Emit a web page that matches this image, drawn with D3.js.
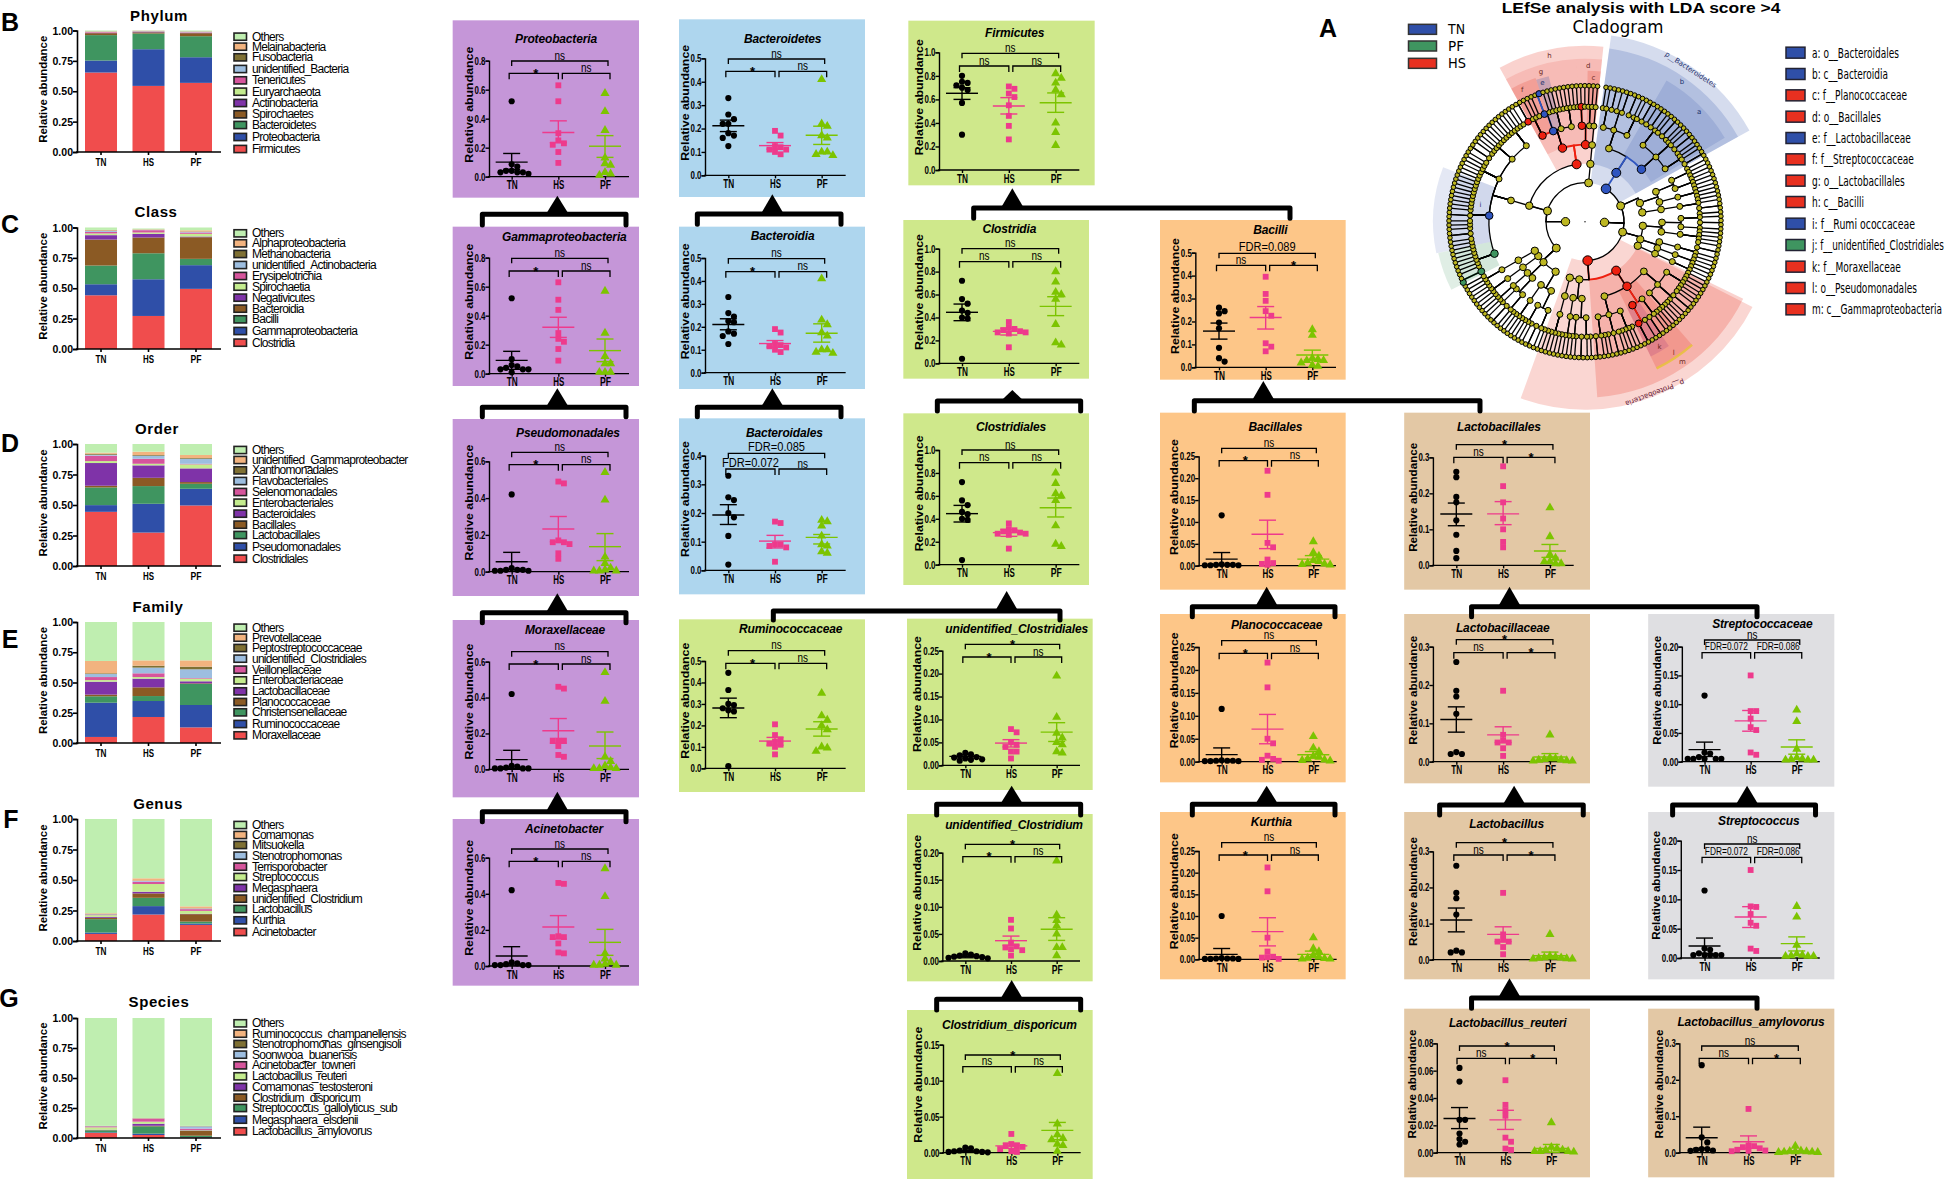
<!DOCTYPE html>
<html><head><meta charset="utf-8">
<script src="https://cdnjs.cloudflare.com/ajax/libs/d3/7.8.5/d3.min.js"></script>
<style>html,body{margin:0;padding:0;background:#fff;overflow:hidden}svg{display:block}text{font-family:"Liberation Sans",Arial,sans-serif;fill:#000}</style>
</head><body>
<script>
// ---------- categories ----------
const groups=["TN","HS","PF"];
const groupColors=["#000000","#EE3A8C","#7CC400"];
const stackColors=["#F04D4D","#2F4FA8","#3F9560","#8B5A24","#7F33A8","#C4EC8E","#D6559C","#9DBEE0","#7F7033","#F2B37F","#BFEEB0"];

// ---------- stacked bars (bottom segment first) ----------
const phylumTaxa=["Firmicutes","Proteobacteria","Bacteroidetes","Spirochaetes","Actinobacteria","Euryarchaeota","Tenericutes","unidentified_Bacteria","Fusobacteria","Melainabacteria","Others"];
const phylumTN=[.654,.099,.209,.016,.003,.002,.005,.002,.002,.002,.006];
const phylumHS=[.544,.302,.129,.010,.003,.002,.003,.002,.002,.001,.002];
const phylumPF=[.569,.211,.173,.025,.002,.002,.004,.004,.002,.002,.006];
const classTaxa=["Clostridia","Gammaproteobacteria","Bacilli","Bacteroidia","Negativicutes","Spirochaetia","Erysipelotrichia","unidentified_Actinobacteria","Methanobacteria","Alphaproteobacteria","Others"];
const classTN=[.442,.091,.154,.214,.036,.014,.013,.008,.004,.004,.020];
const classHS=[.272,.302,.214,.130,.030,.011,.019,.002,.002,.003,.007];
const classPF=[.495,.195,.052,.178,.006,.022,.011,.005,.003,.010,.023];
const orderTaxa=["Clostridiales","Pseudomonadales","Lactobacillales","Bacillales","Bacteroidales","Enterobacteriales","Selenomonadales","Flavobacteriales","Xanthomonadales","unidentified_Gammaproteobacter","Others"];
const orderTN=[.444,.055,.145,.014,.186,.016,.044,.008,.008,.009,.071];
const orderHS=[.274,.236,.145,.068,.102,.013,.041,.025,.006,.027,.063];
const orderPF=[.496,.137,.041,.014,.112,.033,.005,.041,.006,.025,.090];
const familyTaxa=["Moraxellaceae","Ruminococcaceae","Christensenellaceae","Planococcaceae","Lactobacillaceae","Enterobacteriaceae","Veillonellaceae","unidentified_Clostridiales","Peptostreptococcaceae","Prevotellaceae","Others"];
const familyTN=[.050,.283,.053,.014,.107,.013,.025,.025,.006,.102,.322];
const familyHS=[.215,.132,.041,.072,.072,.013,.031,.047,.016,.044,.317];
const familyPF=[.129,.185,.174,.005,.017,.022,.005,.072,.022,.052,.317];
const genusTaxa=["Acinetobacter","Kurthia","Lactobacillus","unidentified_Clostridium","Megasphaera","Streptococcus","Terrisporobacter","Stenotrophomonas","Mitsuokella","Comamonas","Others"];
const genusTN=[.058,.011,.110,.011,.008,.014,.005,.003,.003,.005,.772];
const genusHS=[.217,.069,.068,.036,.014,.063,.019,.006,.003,.019,.486];
const genusPF=[.132,.011,.016,.061,.003,.024,.014,.005,.002,.016,.716];
const speciesTaxa=["Lactobacillus_amylovorus","Megasphaera_elsdenii","Streptococcus_gallolyticus_sub","Clostridium_disporicum","Comamonas_testosteroni","Lactobacillus_reuteri","Acinetobacter_towneri","Soonwooa_buanensis","Stenotrophomonas_ginsengisoli","Ruminococcus_champanellensis","Others"];
const speciesTN=[.042,.005,.017,.002,.003,.020,.008,.002,.001,.001,.899];
const speciesHS=[.025,.011,.061,.005,.017,.017,.025,.002,.002,.002,.833];
const speciesPF=[.005,.003,.011,.042,.003,.003,.011,.019,.002,.002,.899];

// ---------- dot plots: points per group, then [mean, low, high] per group ----------
const proteobacteriaPts=[[.52,.085,.07,.04,.04,.03,.03,.03,.02],[.63,.52,.30,.25,.23,.22,.17,.095],[.575,.45,.32,.13,.09,.08,.03,.02,.01]];
const proteobacteriaBar=[[.10,.05,.16],[.305,.235,.385],[.21,.133,.283]];
const gammaPts=[[.52,.10,.06,.05,.04,.03,.03,.03,.01],[.63,.51,.44,.28,.24,.22,.17,.09],[.57,.28,.12,.07,.07,.01,.01,.01]];
const gammaBar=[[.092,.03,.154],[.32,.25,.389],[.159,.083,.239]];
const pseudomonadalesPts=[[.42,.02,.01,.01,.01,.005,.005,.005],[.49,.48,.17,.16,.16,.15,.10,.07],[.54,.39,.08,.045,.02,.01,.005,.005,.005]];
const pseudomonadalesBar=[[.054,.01,.105],[.232,.163,.30],[.136,.06,.207]];
const moraxellaceaePts=[[.42,.02,.015,.01,.005,.005,.005,.005],[.46,.45,.16,.16,.16,.13,.08,.07],[.54,.38,.07,.045,.02,.01,.005,.005,.005]];
const moraxellaceaeBar=[[.054,.005,.106],[.215,.145,.283],[.13,.06,.208]];
const acinetobacterPts=[[.42,.02,.015,.01,.005,.005,.005,.005],[.46,.455,.165,.16,.16,.125,.075,.07],[.54,.385,.07,.04,.02,.01,.005,.005,.005]];
const acinetobacterBar=[[.055,.005,.107],[.216,.15,.279],[.131,.059,.203]];
const bacteroidetesPts=[[.33,.26,.24,.22,.22,.18,.17,.16,.125],[.19,.17,.125,.12,.11,.11,.10,.09],[.41,.22,.21,.17,.16,.10,.10,.09,.085]];
const bacteroidetesBar=[[.212,.187,.236],[.127,.112,.14],[.171,.132,.21]];
const bacteroidiaPts=[[.33,.26,.245,.225,.22,.18,.17,.16,.125],[.19,.175,.125,.12,.115,.11,.10,.09],[.41,.23,.21,.175,.16,.10,.10,.09,.085]];
const bacteroidiaBar=[[.21,.187,.235],[.127,.112,.14],[.172,.133,.213]];
const bacteroidalesPts=[[.33,.255,.245,.20,.185,.12,.02],[.17,.165,.09,.09,.085,.08,.03],[.175,.17,.155,.12,.09,.085,.065,.06]];
const bacteroidalesBar=[[.193,.16,.229],[.102,.078,.122],[.115,.092,.125]];
const ruminococcaceaePts=[[.445,.365,.30,.295,.28,.27,.265,.01],[.205,.155,.135,.125,.115,.11,.10,.065],[.35,.245,.225,.20,.18,.10,.095,.08]];
const ruminococcaceaeBar=[[.281,.236,.327],[.127,.108,.144],[.183,.15,.217]];
const firmicutesPts=[[.80,.75,.74,.72,.70,.68,.57,.30],[.71,.69,.65,.62,.55,.46,.375,.26],[.82,.78,.74,.68,.64,.40,.32,.21]];
const firmicutesBar=[[.652,.60,.70],[.544,.476,.615],[.572,.49,.655]];
const clostridiaPts=[[.72,.56,.52,.46,.44,.40,.39,.04],[.36,.31,.30,.29,.28,.27,.27,.26,.14],[.80,.71,.62,.60,.56,.34,.18,.16]];
const clostridiaBar=[[.445,.372,.517],[.279,.247,.305],[.497,.416,.581]];
const clostridialesPts=[[.72,.56,.52,.46,.44,.40,.39,.04],[.36,.31,.30,.29,.28,.27,.27,.26,.14],[.80,.71,.62,.60,.56,.34,.18,.16]];
const clostridialesBar=[[.445,.372,.517],[.279,.247,.305],[.497,.416,.581]];
const uClostridialesPts=[[.027,.024,.022,.018,.017,.015,.013,.012,.01],[.079,.072,.05,.045,.04,.03,.03,.015],[.195,.105,.07,.06,.05,.045,.03,.027]];
const uClostridialesBar=[[.0195,.016,.023],[.0485,.04,.056],[.0725,.052,.093]];
const uClostridiumPts=[[.014,.012,.01,.009,.008,.007,.006,.005],[.076,.06,.034,.027,.025,.022,.02,.01],[.185,.085,.075,.065,.05,.025,.025,.01]];
const uClostridiumBar=[[.0085,.006,.011],[.0375,.029,.046],[.0585,.038,.08]];
const disporicumPts=[[.007,.006,.003,.002,.002,.001,.001,.0005],[.026,.012,.01,.01,.008,.005,.002,.001],[.11,.04,.025,.02,.018,.012,.01,.002]];
const disporicumBar=[[.002,.001,.003],[.0095,.006,.013],[.031,.018,.042]];
const bacilliPts=[[.26,.245,.235,.195,.17,.085,.04,.025],[.395,.32,.29,.245,.225,.105,.09,.07],[.165,.14,.04,.035,.03,.03,.02,.01,.005]];
const bacilliBar=[[.158,.123,.193],[.217,.167,.265],[.054,.032,.075]];
const bacillalesPts=[[.115,.003,.002,.002,.002,.001,.001,.001],[.217,.162,.052,.042,.014,.006,.004,.002],[.055,.03,.022,.012,.01,.006,.004,.003,.002]];
const bacillalesBar=[[.015,.001,.03],[.072,.039,.104],[.015,.008,.023]];
const planococcaceaePts=[[.115,.003,.002,.002,.002,.001,.001,.001],[.216,.162,.05,.04,.013,.006,.004,.002],[.055,.03,.022,.012,.01,.006,.004,.003,.002]];
const planococcaceaeBar=[[.0153,.001,.03],[.071,.039,.103],[.015,.008,.022]];
const kurthiaPts=[[.10,.003,.002,.002,.002,.001,.001,.001],[.212,.157,.05,.018,.006,.005,.004,.001],[.05,.025,.018,.01,.005,.003,.002,.001,.001]];
const kurthiaBar=[[.0115,.001,.025],[.064,.031,.096],[.0115,.005,.019]];
const lactobacillalesPts=[[.26,.245,.19,.175,.125,.085,.04,.02],[.275,.22,.175,.13,.10,.065,.05],[.16,.08,.03,.02,.01,.01,.005,.005]];
const lactobacillalesBar=[[.1425,.11,.173],[.143,.113,.177],[.04,.022,.058]];
const lactobacillaceaePts=[[.26,.185,.17,.125,.025,.02,.02],[.185,.07,.055,.05,.05,.035,.015],[.07,.01,.008,.006,.005,.004,.003,.002,.002]];
const lactobacillaceaeBar=[[.11,.077,.143],[.07,.05,.091],[.012,.003,.021]];
const lactobacillusPts=[[.26,.185,.17,.125,.025,.02,.02],[.185,.07,.055,.05,.05,.035,.015],[.07,.01,.008,.006,.005,.004,.003,.002,.002]];
const lactobacillusBar=[[.11,.077,.143],[.07,.05,.091],[.011,.002,.021]];
const reuteriPts=[[.062,.052,.024,.024,.014,.01,.008,.006],[.053,.035,.031,.027,.011,.008,.003,.002],[.022,.004,.003,.002,.002,.001,.001,.001,.0005]];
const reuteriBar=[[.025,.0176,.033],[.024,.017,.031],[.003,.0003,.006]];
const streptococcaceaePts=[[.115,.016,.014,.008,.005,.005,.005,.005,.005],[.15,.088,.088,.075,.06,.055,.016,.012],[.09,.07,.022,.007,.005,.004,.003,.003,.003]];
const streptococcaceaeBar=[[.021,.009,.034],[.071,.053,.089],[.0255,.013,.038]];
const streptococcusPts=[[.115,.016,.014,.008,.005,.005,.005,.005,.005],[.15,.088,.087,.075,.06,.055,.016,.012],[.088,.07,.022,.007,.005,.004,.003,.003,.003]];
const streptococcusBar=[[.0205,.008,.034],[.07,.052,.0875],[.0245,.012,.036]];
const amylovorusPts=[[.24,.042,.028,.01,.01,.008,.006,.005],[.12,.02,.018,.015,.012,.008,.006,.005,.004],[.018,.005,.004,.003,.003,.002,.002,.001,.001]];
const amylovorusBar=[[.041,.012,.07],[.03,.012,.046],[.003,.001,.005]];

// ---------- cladogram clades: phylum > class > order > family > [species per genus] ----------
const bacteroidetesClade=[[[[1,1,2],[1,2],[2,1,1,2]],[[1,2,1,1,2],[1,1,1,2],[1,1,1,2]]]];
const rightClade1=[[[[1,1,1],[1,1,1]],[[1,1,1]]],[[[1,1,2]]]];
const rightClade2=[[[[1,1,2],[1]],[[1,1,1,1]]],[[[2,1,1]],[[1,1]]],[[[1,1,1]]]];
const proteobacteriaClade=[[[[1,1,1,1,1],[1,2,1,1],[1,1,1]],[[1,1,2],[1,3]],[[1,1,1,1],[1,2,1],[1,1,2]]],[[[1,1,2],[1,1]],[[1,1]]],[[[1,1,1,1,1]]]];
const lowerLeftClade=[[[[1,1,2],[1,1,1]],[[1,1,1]]],[[[1,1,2],[1]],[[1,1]]],[[[1,1,1,1]]],[[[1,1,1]]]];
const firmicutesClade=[[[[2,1,1,1,1,1,1],[1,1,1,2,1,1,1,2,1,1,1,1,1,1,1,1],[1,1,1,1,1,1,1,2],[1,1,1,1,1,1],[1,1,1,1,1,1,1]]],[[[2,1,1,1],[2,1],[1,1,1],[1,1,1,1]],[[1,1,1],[1,1]]]];
const smallClade=[[[[1]]]];
const cladeBlue=["0.0","0.0.0","0.0.0.1","1.1.0.0.1","1.1.1.0.1","1.1.1.0.1.0","1.1.1.0.1.0.1"];
const cladeRed=["1.1.1","1.1.1.0","1.1.1.1","1.1.1.0.0","1.1.1.0.0.0","1.1.1.1.0","1.1.1.1.0.1","0.3","0.3.0","0.3.0.1","0.3.0.1.1","0.3.0.1.1.1"];
const cladeGreen=["1.1.0.0.0","1.1.0.0.0.0","1.1.0.0.0.0.0"];
const cladeLegend=["a: o__Bacteroidales","b: c__Bacteroidia","c: f__Planococcaceae","d: o__Bacillales","e: f__Lactobacillaceae","f: f__Streptococcaceae","g: o__Lactobacillales","h: c__Bacilli","i: f__Rumi ococcaceae","j: f__unidentified_Clostridiales","k: f__Moraxellaceae","l: o__Pseudomonadales","m: c__Gammaproteobacteria"];
const cladeLegendGroup=["b","b","r","r","b","r","r","r","b","g","r","r","r"];

// ---------- layout and style (separate from the values) ----------
const BLUE="#2F4FA8",RED="#E83020",GREEN="#3F9560";
const PURPLEBG="#C596D8",BLUEBG="#AED6EE",GREENBG="#CFE88B",ORANGEBG="#FDC688",TANBG="#E3C8A5",GRAYBG="#DFDFE2";
const W=1946,H=1179;
const svg=d3.select("body").append("svg").attr("width",W).attr("height",H);

const stackLayouts=[
 {title:"Phylum",taxa:phylumTaxa,vals:[phylumTN,phylumHS,phylumPF],top:30.5,bot:152,tx:159,ty:16,letter:"B",lx:10,ly:22,oy:0,leg:[110,140,172,207,241,275,309,343,375,411,447]},
 {title:"Class",taxa:classTaxa,vals:[classTN,classHS,classPF],top:227.5,bot:349,tx:156,ty:212,letter:"C",lx:10,ly:224,oy:0,leg:[700,730,762,795,828,860,893,926,958,993,1028]},
 {title:"Order",taxa:orderTaxa,vals:[orderTN,orderHS,orderPF],top:444,bot:566,tx:157,ty:429,letter:"D",lx:10,ly:443,oy:400,leg:[150,180,211,243,276,308,341,374,405,440,476]},
 {title:"Family",taxa:familyTaxa,vals:[familyTN,familyHS,familyPF],top:622,bot:743,tx:158,ty:607,letter:"E",lx:10,ly:639,oy:400,leg:[683,713,744,776,809,841,874,906,937,972,1006]},
 {title:"Genus",taxa:genusTaxa,vals:[genusTN,genusHS,genusPF],top:819,bot:941,tx:158,ty:804,letter:"F",lx:11,ly:819,oy:780,leg:[135,165,195,227,260,291,324,356,387,421,456]},
 {title:"Species",taxa:speciesTaxa,vals:[speciesTN,speciesHS,speciesPF],top:1018,bot:1138,tx:159,ty:1002,letter:"G",lx:9,ly:998,oy:780,leg:[730,761,792,824,856,889,921,953,984,1019,1054]}
];

// crop coordinates: o is the crop origin; x is divided by xScale(o), y by 3
const xScale=o=>o[0]===1390?2.82:3;
const L=[
 {t:"Proteobacteria",c:PURPLEBG,o:[440,0],bg:[38,61,597,593],a:[147,182,530,567],cx:[215,355,495],tt:[348,118],br:[183,220],lab:["ns","*","ns"],max:.8,step:.2,pts:proteobacteriaPts,bar:proteobacteriaBar},
 {t:"Gammaproteobacteria",c:PURPLEBG,o:[440,0],bg:[38,680,597,1158],a:[147,773,1121,567],cx:[215,355,495],tt:[373,710],br:[775,813],lab:["ns","*","ns"],max:.8,step:.2,pts:gammaPts,bar:gammaBar},
 {t:"Pseudomonadales",c:PURPLEBG,o:[440,400],bg:[38,57,597,588],a:[147,184,515,567],cx:[215,355,495],tt:[384,99],br:[157,194],lab:["ns","*","ns"],max:.6,step:.2,pts:pseudomonadalesPts,bar:pseudomonadalesBar},
 {t:"Moraxellaceae",c:PURPLEBG,o:[440,400],bg:[38,660,597,1192],a:[147,785,1108,567],cx:[215,355,495],tt:[375,690],br:[755,792],lab:["ns","*","ns"],max:.6,step:.2,pts:moraxellaceaePts,bar:moraxellaceaeBar},
 {t:"Acinetobacter",c:PURPLEBG,o:[440,790],bg:[38,87,597,587],a:[147,203,528,567],cx:[215,355,495],tt:[372,118],br:[177,214],lab:["ns","*","ns"],max:.6,step:.2,pts:acinetobacterPts,bar:acinetobacterBar},
 {t:"Bacteroidetes",c:BLUEBG,o:[440,0],bg:[717,58,1275,591],a:[795,175,526,1217],cx:[865,1005,1145],tt:[1028,117],br:[177,214],lab:["ns","*","ns"],max:.5,step:.1,pts:bacteroidetesPts,bar:bacteroidetesBar},
 {t:"Bacteroidia",c:BLUEBG,o:[440,0],bg:[717,680,1275,1167],a:[795,774,1118,1217],cx:[865,1005,1145],tt:[1028,708],br:[776,815],lab:["ns","*","ns"],max:.5,step:.1,pts:bacteroidiaPts,bar:bacteroidiaBar},
 {t:"Bacteroidales",c:BLUEBG,o:[440,400],bg:[717,55,1275,583],a:[795,167,511,1217],cx:[865,1005,1145],tt:[1033,98],br:[160,207],lab:["FDR=0.085","FDR=0.072","ns"],max:.4,step:.1,pts:bacteroidalesPts,bar:bacteroidalesBar},
 {t:"Ruminococcaceae",c:GREENBG,o:[440,400],bg:[717,658,1275,1176],a:[795,783,1105,1217],cx:[865,1005,1145],tt:[1052,688],br:[752,790],lab:["ns","*","ns"],max:.5,step:.1,pts:ruminococcaceaePts,bar:ruminococcaceaeBar},
 {t:"Firmicutes",c:GREENBG,o:[890,0],bg:[55,62,614,556],a:[147,157,510,568],cx:[216,357,497],tt:[374,99],br:[160,198],lab:["ns","ns","ns"],max:1,step:.2,pts:firmicutesPts,bar:firmicutesBar},
 {t:"Clostridia",c:GREENBG,o:[890,0],bg:[40,660,597,1136],a:[147,746,1090,568],cx:[216,357,497],tt:[358,688],br:[746,785],lab:["ns","ns","ns"],max:1,step:.2,pts:clostridiaPts,bar:clostridiaBar},
 {t:"Clostridiales",c:GREENBG,o:[890,400],bg:[40,40,597,555],a:[147,150,494,568],cx:[216,357,497],tt:[363,80],br:[150,188],lab:["ns","ns","ns"],max:1,step:.2,pts:clostridialesPts,bar:clostridialesBar},
 {t:"unidentified_Clostridiales",c:GREENBG,o:[890,400],bg:[51,656,608,1170],a:[157,752,1096,570],cx:[226,361,500],tt:[380,686],br:[733,771],lab:["*","*","ns"],max:.25,step:.05,pts:uClostridialesPts,bar:uClostridialesBar},
 {t:"unidentified_Clostridium",c:GREENBG,o:[890,790],bg:[51,72,608,574],a:[157,188,513,570],cx:[226,362,500],tt:[372,105],br:[163,200],lab:["*","*","ns"],max:.2,step:.05,pts:uClostridiumPts,bar:uClostridiumBar},
 {t:"Clostridium_disporicum",c:GREENBG,o:[890,790],bg:[51,660,608,1167],a:[159,764,1088,572],cx:[226,364,502],tt:[358,706],br:[795,830],lab:["*","ns","ns"],max:.15,step:.05,pts:disporicumPts,bar:disporicumBar},
 {t:"Bacilli",c:ORANGEBG,o:[890,0],bg:[810,660,1367,1139],a:[916,758,1102,1338],cx:[987,1127,1267],tt:[1141,689],br:[760,796],lab:["FDR=0.089","ns","*"],max:.5,step:.1,pts:bacilliPts,bar:bacilliBar},
 {t:"Bacillales",c:ORANGEBG,o:[890,400],bg:[810,38,1367,569],a:[926,169,497,1338],cx:[995,1132,1270],tt:[1156,80],br:[145,182],lab:["ns","*","ns"],max:.25,step:.05,pts:bacillalesPts,bar:bacillalesBar},
 {t:"Planococcaceae",c:ORANGEBG,o:[890,400],bg:[810,642,1367,1147],a:[926,741,1085,1340],cx:[995,1132,1270],tt:[1160,675],br:[722,760],lab:["ns","*","ns"],max:.25,step:.05,pts:planococcaceaePts,bar:planococcaceaeBar},
 {t:"Kurthia",c:ORANGEBG,o:[890,790],bg:[810,66,1367,568],a:[926,183,508,1340],cx:[995,1132,1270],tt:[1144,97],br:[158,195],lab:["ns","*","ns"],max:.25,step:.05,pts:kurthiaPts,bar:kurthiaBar},
 {t:"Lactobacillales",c:TANBG,o:[1390,400],bg:[40,38,564,569],a:[121,172,496,518],cx:[187,319,451],tt:[307,80],br:[134,172],lab:["*","ns","*"],max:.3,step:.1,pts:lactobacillalesPts,bar:lactobacillalesBar,narrow:1},
 {t:"Lactobacillaceae",c:TANBG,o:[1390,400],bg:[40,642,564,1150],a:[121,740,1085,518],cx:[187,319,451],tt:[318,683],br:[719,758],lab:["*","ns","*"],max:.3,step:.1,pts:lactobacillaceaePts,bar:lactobacillaceaeBar,narrow:1},
 {t:"Lactobacillus",c:TANBG,o:[1390,790],bg:[40,66,564,568],a:[121,184,509,518],cx:[187,319,451],tt:[329,102],br:[158,195],lab:["*","ns","*"],max:.3,step:.1,pts:lactobacillusPts,bar:lactobacillusBar,narrow:1},
 {t:"Lactobacillus_reuteri",c:TANBG,o:[1390,790],bg:[40,656,564,1162],a:[132,760,1088,522],cx:[196,325,455],tt:[332,700],br:[768,805],lab:["*","ns","*"],max:.08,step:.02,pts:reuteriPts,bar:reuteriBar,narrow:1},
 {t:"Streptococcaceae",c:GRAYBG,o:[1390,400],bg:[728,642,1253,1160],a:[823,740,1085,1212],cx:[887,1017,1147],tt:[1050,673],br:[720,758],lab:["ns","FDR=0.072","FDR=0.086"],max:.2,step:.05,pts:streptococcaceaePts,bar:streptococcaceaeBar,narrow:1,fdrW:43},
 {t:"Streptococcus",c:GRAYBG,o:[1390,790],bg:[728,66,1253,568],a:[820,152,504,1212],cx:[887,1017,1147],tt:[1040,94],br:[162,202],lab:["ns","FDR=0.072","FDR=0.086"],max:.2,step:.05,pts:streptococcusPts,bar:streptococcusBar,narrow:1,fdrW:43},
 {t:"Lactobacillus_amylovorus",c:TANBG,o:[1390,790],bg:[728,656,1253,1162],a:[816,760,1088,1212],cx:[879,1011,1143],tt:[1018,695],br:[768,805],lab:["ns","ns","*"],max:.3,step:.1,pts:amylovorusPts,bar:amylovorusBar,narrow:1}
];

const connectors=[
 {o:[440,0],x0:127,x1:558,y:643,end:675,cx:352,apex:587},
 {o:[440,0],x0:772,x1:1203,y:642,end:673,cx:997,apex:583},
 {o:[440,400],x0:127,x1:558,y:22,end:50,cx:352,apex:-35},
 {o:[440,400],x0:772,x1:1203,y:22,end:50,cx:997,apex:-35},
 {o:[440,400],x0:127,x1:558,y:638,end:668,cx:352,apex:580},
 {o:[440,790],x0:127,x1:558,y:65,end:95,cx:352,apex:5},
 {o:[890,400],x0:-350,x1:510,y:633,end:660,cx:350,apex:573},
 {o:[890,0],x0:251,x1:1200,y:624,end:655,cx:367,apex:565},
 {o:[890,400],x0:142,x1:572,y:3,end:33,cx:367,apex:-30},
 {o:[890,400],x0:913,x1:1770,y:2,end:33,cx:1120,apex:-57},
 {o:[890,400],x0:907,x1:1335,y:620,end:650,cx:1130,apex:560},
 {o:[890,790],x0:907,x1:1335,y:43,end:75,cx:1130,apex:-13},
 {o:[890,790],x0:140,x1:572,y:43,end:75,cx:365,apex:-13},
 {o:[890,790],x0:140,x1:572,y:628,end:660,cx:365,apex:570},
 {o:[1390,400],x0:230,x1:1035,y:620,end:650,cx:337,apex:560},
 {o:[1390,790],x0:140,x1:545,y:45,end:75,cx:350,apex:-13},
 {o:[1390,790],x0:797,x1:1200,y:45,end:75,cx:1007,apex:-13},
 {o:[1390,790],x0:230,x1:1035,y:624,end:655,cx:337,apex:565}
];

// helpers
function txt(g,s,x,y,o={}){
  const t=g.append("text").attr("x",x).attr("y",y).text(s)
    .attr("font-size",o.size||12).attr("text-anchor",o.anchor||"middle");
  if(o.weight)t.attr("font-weight",o.weight);
  if(o.style)t.attr("font-style",o.style);
  if(o.family)t.style("font-family",o.family);
  if(o.len)t.attr("textLength",o.len).attr("lengthAdjust","spacingAndGlyphs");
  if(o.ls!==undefined)t.attr("letter-spacing",o.ls);
  if(o.fill)t.style("fill",o.fill);
  if(o.rot!==undefined)t.attr("transform",`rotate(${o.rot},${x},${y})`);
  if(o.fit){ // squeeze the glyphs to a target width with a transform
    const natural=t.node().getComputedTextLength();
    t.attr("x",0).attr("y",0).attr("transform",`translate(${x},${y}) scale(${o.fit/natural},1)`);
  }
  return t;
}
function styleAxis(g,w){
  g.selectAll("path,line").attr("stroke","#000").attr("stroke-width",w);
  g.selectAll("text").attr("fill","#000").style("font-family",'"Liberation Sans",Arial,sans-serif').attr("font-weight","bold");
}

// ---------- stacked bar panels ----------
stackLayouts.forEach(p=>{
  const g=svg.append("g");
  const x=d3.scaleBand().domain(groups).range([85,212]).paddingInner(.326);
  const y=d3.scaleLinear().domain([0,1]).range([p.bot,p.top]);
  const rows=groups.map((n,i)=>{const r={group:n};p.taxa.forEach((t,j)=>r[t]=p.vals[i][j]);return r;});
  const series=d3.stack().keys(p.taxa)(rows);
  const color=d3.scaleOrdinal().domain(p.taxa).range(stackColors);
  g.selectAll("g.s").data(series).join("g").attr("fill",d=>color(d.key))
   .selectAll("rect").data(d=>d).join("rect")
   .attr("x",d=>x(d.data.group)).attr("width",x.bandwidth())
   .attr("y",d=>y(d[1])).attr("height",d=>Math.max(0,y(d[0])-y(d[1])));
  const ya=g.append("g").attr("transform","translate(77,0)")
    .call(d3.axisLeft(y).tickValues([0,.25,.5,.75,1]).tickFormat(d3.format(".2f")).tickSize(4).tickPadding(0));
  styleAxis(ya,1.6); ya.selectAll("text").attr("font-size",11.5).attr("textLength",20.5).attr("lengthAdjust","spacingAndGlyphs");
  const xa=g.append("g").attr("transform",`translate(0,${p.bot})`)
    .call(d3.axisBottom(x).tickSize(3).tickPadding(3));
  xa.select(".domain").remove();
  styleAxis(xa,1.6);
  xa.selectAll("text").attr("font-size",11.5).attr("textLength",11).attr("lengthAdjust","spacingAndGlyphs");
  g.append("line").attr("x1",76).attr("x2",221).attr("y1",p.bot).attr("y2",p.bot).attr("stroke","#000").attr("stroke-width",1.6);
  txt(g,"Relative abundance",47,(p.top+p.bot)/2-2,{size:11.5,weight:"bold",rot:-90,len:107});
  txt(g,p.title,p.tx,p.ty+5,{size:15,weight:"bold",ls:.6});
  txt(g,p.letter,p.lx,p.ly+9,{size:25,weight:"bold"});
  const legend=p.taxa.slice().reverse();
  legend.forEach((t,i)=>{
    const yc=p.oy+p.leg[i]/3;
    g.append("rect").attr("x",234).attr("y",yc-3.6).attr("width",12.5).attr("height",7.2)
      .attr("fill",color(t)).attr("stroke","#222").attr("stroke-width",1.6);
    txt(g,t,252,yc+4,{size:12,anchor:"start",ls:-.75});
  });
});

// ---------- dot-plot panels ----------
function swarm(vals,y,s){
  const placed=[];
  vals.slice().sort((a,b)=>b-a).forEach(v=>{
    const py=y(v);
    for(const k of [0,1,-1,2,-2,3,-3,4,-4,5,-5]){
      const px=k*s;
      if(placed.every(q=>Math.hypot(q.px-px,q.py-py)>=s-.4)){placed.push({v,px,py});break;}
    }
  });
  return placed;
}
const sym=[d3.symbolCircle,d3.symbolSquare,d3.symbolTriangle];
const symSize=[30,34,36];
L.forEach(p=>{
  const xs=xScale(p.o);
  const Zx=v=>p.o[0]+v/xs, Zy=v=>p.o[1]+v/3;
  const g=svg.append("g");
  g.append("rect").attr("x",Zx(p.bg[0])).attr("y",Zy(p.bg[1])).attr("width",(p.bg[2]-p.bg[0])/xs).attr("height",(p.bg[3]-p.bg[1])/3).attr("fill",p.c);
  const ax=Zx(p.a[0]),top=Zy(p.a[1]),bot=Zy(p.a[2]),right=Zx(p.a[3]);
  const y=d3.scaleLinear().domain([0,p.max]).range([bot,top]);
  const x=d3.scalePoint().domain(groups).range([Zx(p.cx[0]),Zx(p.cx[2])]);
  const fmt=d3.format(p.step<.1?".2f":".1f");
  const ya=g.append("g").attr("transform",`translate(${ax},0)`)
    .call(d3.axisLeft(y).tickValues(d3.range(0,p.max+p.step/2,p.step)).tickFormat(fmt).tickSize(3.5).tickPadding(0));
  styleAxis(ya,1.4);
  ya.selectAll("text").attr("font-size",10.5).attr("lengthAdjust","spacingAndGlyphs").attr("textLength",p.step<.1?15.5:11);
  const xa=g.append("g").attr("transform",`translate(0,${bot})`).call(d3.axisBottom(x).tickSize(3).tickPadding(1));
  xa.select(".domain").remove();
  styleAxis(xa,1.4);
  xa.selectAll("text").attr("font-size",12).attr("textLength",11).attr("lengthAdjust","spacingAndGlyphs");
  g.append("line").attr("x1",ax-1).attr("x2",right).attr("y1",bot).attr("y2",bot).attr("stroke","#000").attr("stroke-width",1.4);
  txt(g,"Relative abundance",ax-(p.step<.1?21:16),(top+bot)/2-14,{size:11,weight:"bold",rot:-90,len:p.narrow?109:116});
  txt(g,p.t,Zx(p.tt[0]),Zy(p.tt[1])+4,{size:12,weight:"bold",style:"italic",ls:-.15});
  groups.forEach((name,i)=>{
    const cx=x(name),col=groupColors[i];
    const ps=swarm(p.pts[i],y,5.6);
    g.selectAll(null).data(ps).join("path")
      .attr("d",d3.symbol(sym[i],symSize[i])).attr("fill",col)
      .attr("transform",d=>`translate(${cx+d.px},${d.py})`);
    const [m,lo,hi]=p.bar[i];
    const bar=g.append("g").attr("stroke",col).attr("stroke-width",1.4).attr("fill","none");
    bar.append("line").attr("x1",cx-16).attr("x2",cx+16).attr("y1",y(m)).attr("y2",y(m));
    bar.append("line").attr("x1",cx).attr("x2",cx).attr("y1",y(lo)).attr("y2",y(hi));
    [lo,hi].forEach(v=>bar.append("line").attr("x1",cx-8.5).attr("x2",cx+8.5).attr("y1",y(v)).attr("y2",y(v)));
  });
  // significance brackets
  const c=groups.map(n=>x(n));
  const yt=Zy(p.br[0]),yl=Zy(p.br[1]);
  const spans=[[c[0],c[2]+3,yt,5],[c[0]-2.5,c[1],yl,6],[c[1]+4,c[2]+5,yl,6]];
  spans.forEach(([a,b,yy,h],i)=>{
    g.append("path").attr("d",`M${a},${yy+h}V${yy}H${b}V${yy+h}`).attr("fill","none").attr("stroke","#000").attr("stroke-width",1.3);
    const s=p.lab[i],mid=(a+b)/2+(i===1&&s==="*"?2:0);
    if(s==="*")txt(g,s,mid,yy+4.5,{size:13,weight:"bold"});
    else if(s==="ns")txt(g,s,mid,yy-1.5,{size:12.5,len:10.5});
    else txt(g,s,mid,yy-2.5,{size:p.fdrW?10.5:12.5,len:p.fdrW||57});
  });
});

// ---------- connectors ----------
connectors.forEach(c=>{
  const xs=xScale(c.o);
  const Zx=v=>c.o[0]+v/xs, Zy=v=>c.o[1]+v/3;
  const g=svg.append("g");
  g.append("path").attr("d",`M${Zx(c.x0)},${Zy(c.end)}V${Zy(c.y)}H${Zx(c.x1)}V${Zy(c.end)}`)
    .attr("fill","none").attr("stroke","#000").attr("stroke-width",5).attr("stroke-linecap","round").attr("stroke-linejoin","round");
  g.append("path").attr("d",`M${Zx(c.cx)},${Zy(c.apex)}L${Zx(c.cx)+11.5},${Zy(c.y)}H${Zx(c.cx)-11.5}Z`).attr("fill","#000");
});

// ---------- cladogram ----------
const cl=svg.append("g");
const ccx=1585,ccy=221.7;
const P=(deg,r)=>{const [a,b]=d3.pointRadial(deg*Math.PI/180,r);return [ccx+a,ccy+b];};
function sector(a0,a1,r0,r1,col,op){
  const [x0,y0]=P(a0,r1),[x1,y1]=P(a1,r1),[x2,y2]=P(a1,r0),[x3,y3]=P(a0,r0);
  cl.append("path").attr("d",`M${x0},${y0}A${r1},${r1} 0 0 1 ${x1},${y1}L${x2},${y2}A${r0},${r0} 0 0 0 ${x3},${y3}Z`).attr("fill",col).attr("opacity",op);
}
[[8,61,39,188,BLUE,.2],[8,61,58,175,BLUE,.2],[30,59,77,163,BLUE,.16],
 [331,366,58,176,RED,.22],[331,357,77,163,RED,.14],[357,366,77,163,RED,.14],[331,341,96,152,RED,.2],[341,346,96,150,BLUE,.22],[361,366,96,151,RED,.2],
 [258,291,96,152,BLUE,.13],[258,291,96,137,BLUE,.1],[243,258,96,150,GREEN,.16],[243,258,96,137,GREEN,.08],
 [117,200,39,188,RED,.2],[116,176,58,176,RED,.22],[139,154,77,163,RED,.2],[146,154,96,150,"#A03080",.22],[139,154,162,164.5,"#E8C040",.9]
].forEach(s=>sector(...s));

const cladeRoot=d3.hierarchy([[bacteroidetesClade,rightClade1,rightClade2,proteobacteriaClade],[lowerLeftClade,firmicutesClade,smallClade]],
  d=>Array.isArray(d)?d:(d>0?d3.range(d).map(()=>0):null));
d3.cluster().size([358.2,1]).separation(()=>1)(cladeRoot);
const ringR=[0,19.5,39,58,77,96,115,136];
const overrides={"0":92-8,"1":270-8,"0.1":66-8,"1.1":286-8,"1.1.0":286-8,"1.1.0.0":286-8};
cladeRoot.each(d=>{
  d.id=d.parent?(d.parent.id===""?"":d.parent.id+".")+d.parent.children.indexOf(d):"";
  d.ang=(overrides[d.id]!==undefined?overrides[d.id]:d.x)+8;
  d.r=ringR[d.depth];
  d.col=cladeBlue.includes(d.id)?"#2F55C0":cladeRed.includes(d.id)?"#EE2010":cladeGreen.includes(d.id)?GREEN:null;
});
const linkG=cl.append("g").attr("fill","none");
cladeRoot.links().filter(l=>l.source.depth>=1).forEach(({source:s,target:t})=>{
  const [ax,ay]=P(s.ang,s.r),[bx,by]=P(s.ang,t.r),[ex,ey]=P(t.ang,t.r);
  const d=t.ang-s.ang;
  const col=(t.col&&s.col===t.col)?t.col:"#000";
  linkG.append("path").attr("d",`M${ax},${ay}L${bx},${by}A${t.r},${t.r} 0 ${Math.abs(d)>180?1:0} ${d>0?1:0} ${ex},${ey}`)
    .attr("stroke",col).attr("stroke-width",col==="#000"?1.3:1.8);
});
const nodeR=[.7,4.2,4,3.7,3.4,3,2.6,2.3];
cl.append("g").selectAll("circle").data(cladeRoot.descendants()).join("circle")
  .attr("cx",d=>P(d.ang,d.r)[0]).attr("cy",d=>P(d.ang,d.r)[1]).attr("r",d=>d.col?nodeR[d.depth]+.8:nodeR[d.depth])
  .attr("fill",d=>d.depth===0?"#000":(d.col||"#BDB722")).attr("stroke","#000").attr("stroke-width",d=>d.depth===0?0:1);

// cladogram small labels (crop origin 1290,0; x at 2.39, y at 3)
const cz=(x,y)=>[1290+x/2.39,y/3];
[["h",620,168,"#6B2A1E"],["g",600,215,"#6B2A1E"],["f",555,270,"#6B2A1E"],["e",603,250,"#20306B"],["d",713,197,"#6B2A1E"],["c",725,235,"#6B2A1E"],["b",937,245,"#20306B"],["a",978,337,"#20306B"],["k",883,1040,"#6B2A1E"],["l",917,1058,"#6B2A1E"],["m",938,1085,"#6B2A1E"],["i",455,615,"#20306B"]].forEach(([s,x,y,c])=>{
  const [a,b]=cz(x,y);txt(cl,s,a,b+2,{size:7,fill:c,family:'"DejaVu Sans"'});
});
{const [a,b]=cz(955,215);txt(cl,"p__Bacteroidetes",a,b,{size:7,fill:"#1E2E6B",rot:33,family:'"DejaVu Sans"'});}
{const [a,b]=cz(870,1172);txt(cl,"p__Proteobacteria",a,b,{size:7,fill:"#5A1030",rot:159,family:'"DejaVu Sans"'});}

// cladogram headers and legends
const rg=svg.append("g");
txt(rg,"LEfSe analysis with LDA score >4",1641,13,{size:15.5,weight:"bold",fit:279});
txt(rg,"Cladogram",1618,33,{size:18,family:'"DejaVu Sans"',fit:91});
txt(rg,"A",1328,37,{size:25,weight:"bold"});
[["TN",BLUE,88,17],["PF",GREEN,138,16],["HS",RED,190,18]].forEach(([s,c,yz,w])=>{
  rg.append("rect").attr("x",1408.5).attr("y",yz/3-5).attr("width",28).attr("height",10).attr("fill",c).attr("stroke","#333").attr("stroke-width",1.5);
  txt(rg,s,1448,yz/3+5,{size:14,anchor:"start",family:'"DejaVu Sans"',fit:w});
});
const legendY=[158,222,286,350,414,478,542,606,671,735,800,864,928];
const legendW=[87,76,95,69,99,102,93,52,103,132,89,105,130];
const legCol={b:BLUE,r:RED,g:GREEN};
cladeLegend.forEach((s,i)=>{
  rg.append("rect").attr("x",1786).attr("y",legendY[i]/3-5.5).attr("width",19).attr("height",11)
    .attr("fill",legCol[cladeLegendGroup[i]]).attr("stroke","#223").attr("stroke-width",1.5);
  txt(rg,s,1812,legendY[i]/3+5,{size:13.5,anchor:"start",family:'"DejaVu Sans"',fit:legendW[i]});
});
</script>
</body></html>
